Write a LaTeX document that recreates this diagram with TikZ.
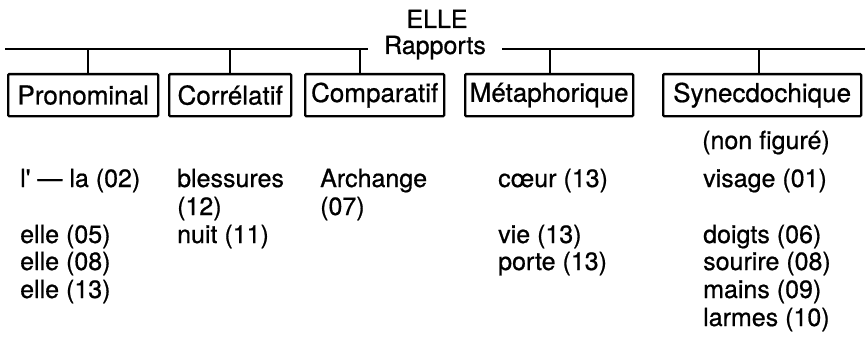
\documentclass[tikz,border=0pt]{standalone}
\usepackage{fontspec}
\setmainfont{TeX Gyre Heros}[FakeBold=0.7]
\begin{document}
\begin{tikzpicture}[x=1pt,y=-1pt,
  lbl/.style={font=\fontsize{25}{28}\selectfont, inner sep=0pt},
  cat/.style={font=\fontsize{26}{28}\selectfont, inner sep=0pt, draw, line width=2.3pt,
    rounded corners=1pt, minimum height=42pt, anchor=north west},
  item/.style={lbl, anchor=base west},
  conn/.style={line width=2.3pt}]
\useasboundingbox (0,0) rectangle (865,337);
% title
\node[lbl, anchor=base] (elle) at (437,28) {ELLE};
\node[lbl, anchor=base, inner xsep=16pt] (rap) at (435,54) {Rapports};
\coordinate (L) at (5,49);
\coordinate (R) at (865,49);
\draw[conn] (L) -- (L -| rap.west);
\draw[conn] (rap.east |- R) -- (R);
% boxes
\node[cat, minimum width=150pt] (b1) at (7,73) {Pronominal};
\node[cat, minimum width=122pt] (b2) at (168,73) {Corrélatif};
\node[cat, minimum width=139pt] (b3) at (304,73) {Comparatif};
\node[cat, minimum width=168pt] (b4) at (464,73) {Métaphorique};
\node[cat, minimum width=198pt] (b5) at (662,73) {Synecdochique};
% stems
\coordinate (t1) at (88,49);
\coordinate (t2) at (230,49);
\coordinate (t3) at (360,49);
\coordinate (t4) at (550,49);
\coordinate (t5) at (759,49);
\draw[conn] (t1) -- (t1 |- b1.north);
\draw[conn] (t2) -- (t2 |- b2.north);
\draw[conn] (t3) -- (t3 |- b3.north);
\draw[conn] (t4) -- (t4 |- b4.north);
\draw[conn] (t5) -- (t5 |- b5.north);
% column 5 note
\node[item] (nf) at (702,149) {(non figuré)};
% column 1
\node[item] (a1) at (20,187) {l\textquotesingle{} — la (02)};
\node[item] (a2) at (20,243) {elle (05)};
\node[item] (a3) at (20,270) {elle (08)};
\node[item] (a4) at (20,298) {elle (13)};
% column 2
\node[item] (c1) at (177,187) {blessures};
\node[item] (c2) at (177,215) {(12)};
\node[item] (c3) at (177,243) {nuit (11)};
% column 3
\node[item] (d1) at (320,187) {Archange};
\node[item] (d2) at (320,215) {(07)};
% column 4
\node[item] (m1) at (498,187) {cœur (13)};
\node[item] (m2) at (498,243) {vie (13)};
\node[item] (m3) at (498,270) {porte (13)};
% column 5
\node[item] (s1) at (703,187) {visage (01)};
\node[item] (s2) at (703,243) {doigts (06)};
\node[item] (s3) at (703,270) {sourire (08)};
\node[item] (s4) at (703,298) {mains (09)};
\node[item] (s5) at (703,326) {larmes (10)};
\end{tikzpicture}
\end{document}
